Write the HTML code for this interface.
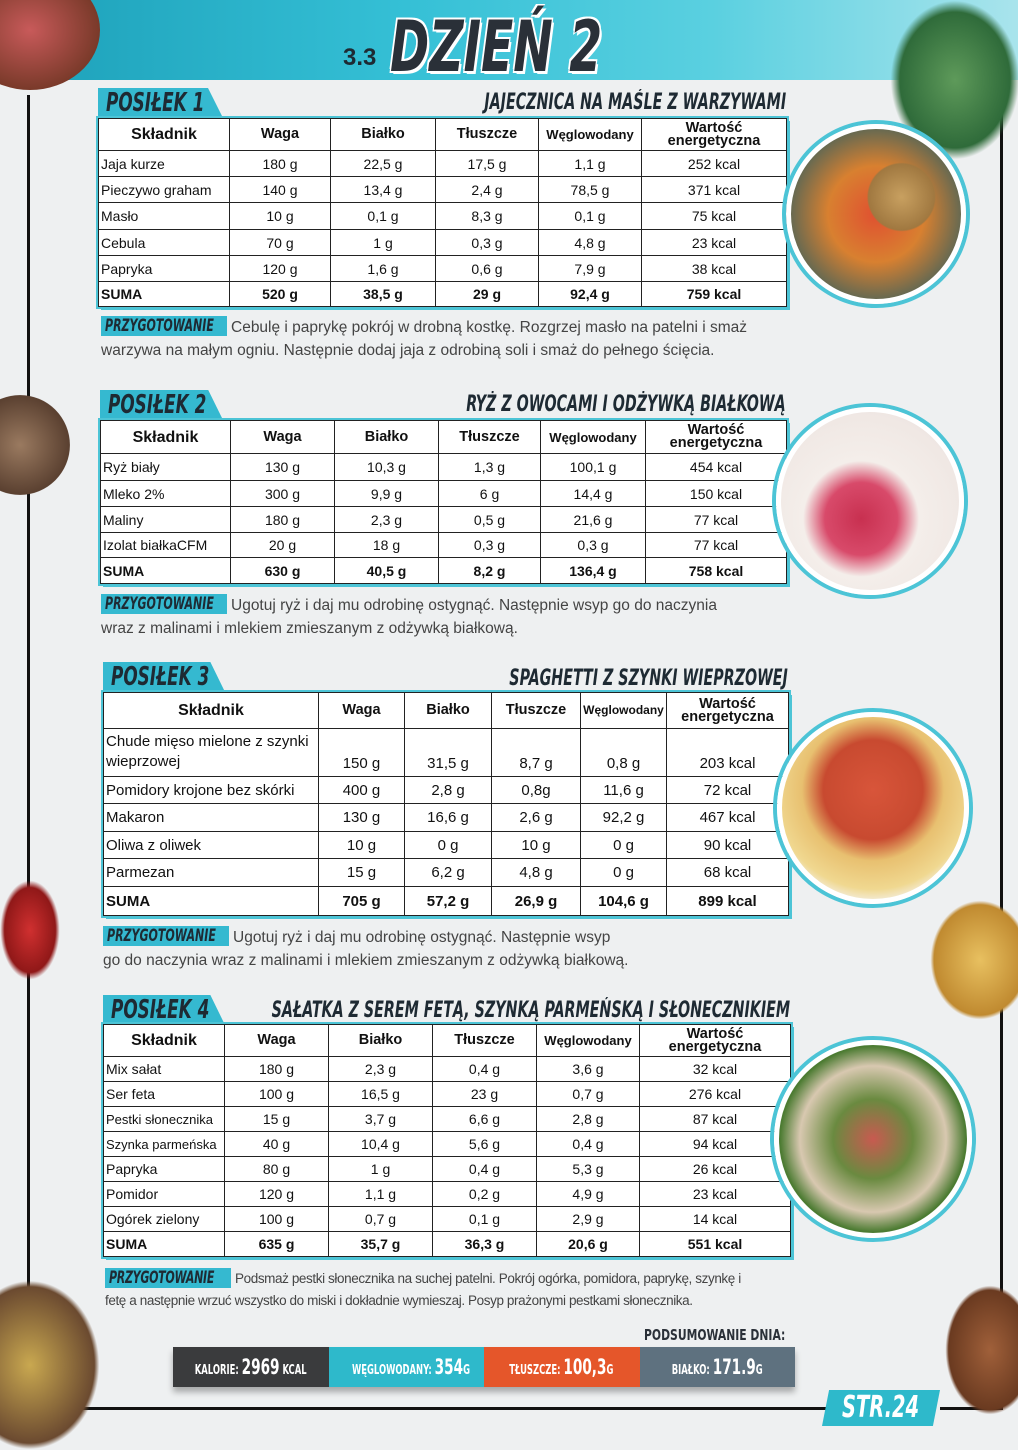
<!DOCTYPE html>
<html><head><meta charset="utf-8"><style>
*{margin:0;padding:0;box-sizing:border-box}
body{width:1018px;height:1440px;position:relative;overflow:hidden;background:#eef0f1;font-family:"Liberation Sans",sans-serif;color:#111}
.abs{position:absolute}
.top{left:0;top:0;width:1018px;height:80px;background:linear-gradient(90deg,#1c9fb8,#35c0d6 40%,#5ad0e0 70%,#a9e4ec)}
.cond{font-family:"Liberation Sans Narrow","DejaVu Sans Condensed","Liberation Sans",sans-serif;font-weight:bold;font-style:italic;white-space:nowrap}
.sx{display:inline-block;transform:scaleX(.72);transform-origin:left}
table{position:absolute;border-collapse:collapse;table-layout:fixed;background:#fff;box-shadow:3px 3px 0 #4cc4d6,0 0 0 2px #4cc4d6;font-size:14px}
td{border:1.5px solid #222;text-align:center;padding:0 2px;overflow:hidden;white-space:nowrap}
td:first-child{text-align:left}
tr.h td{font-weight:bold;font-size:14.5px;line-height:13px}
tr.h td:first-child{text-align:center;font-size:16px}
tr.s td{font-weight:bold}
.tab{height:30px;background:#35b9d0;clip-path:polygon(0 0,88% 0,100% 100%,0 100%);padding-left:8px;font-size:26px;color:#1e2a33;line-height:30px;overflow:hidden}
.title{font-size:22px;color:#1e2a33;transform:scaleX(.72);transform-origin:right}
.prep{font-size:15.5px;color:#444;line-height:23px}
.lab{display:inline-block;background:#35b9d0;color:#1e2a33;padding:0 4px;font-size:17px;line-height:20px;margin-right:4px;vertical-align:top}
.lab span{display:inline-block;transform:scaleX(.72);transform-origin:left;width:118px;overflow:visible}
.circ{border-radius:50%;border:5px solid #fff;box-shadow:0 0 0 4px #4cc4d6}
.sum div{flex:1;white-space:nowrap;overflow:hidden}
.sum span.b{font-size:21px}
</style></head><body>
<div class="abs top"></div>
<div class="abs" style="left:27px;top:95px;width:3px;height:1315px;background:#111"></div>
<div class="abs" style="left:1000px;top:80px;width:3px;height:1320px;background:#111"></div>
<div class="abs" style="left:27px;top:1407px;width:800px;height:3px;background:#111"></div>
<div class="abs" style="left:940px;top:1407px;width:63px;height:3px;background:#111"></div>
<div class="abs" style="left:-40px;top:-30px;width:140px;height:120px;border-radius:50%;background:radial-gradient(#c85a5a,#7a3a2a 70%)"></div>
<div class="abs" style="left:890px;top:0;width:130px;height:160px;border-radius:50%;background:radial-gradient(#5e9a5a,#2f6b3a 60%,transparent 70%)"></div>
<div class="abs" style="left:-30px;top:395px;width:100px;height:100px;border-radius:50%;background:radial-gradient(#9a7a60,#5a4030 70%,transparent 72%)"></div>
<div class="abs" style="left:-40px;top:1280px;width:140px;height:170px;border-radius:50%;background:radial-gradient(#c9a850,#6b4a30 65%,transparent 70%)"></div>
<div class="abs" style="left:930px;top:900px;width:100px;height:120px;border-radius:50%;background:radial-gradient(#e8c060,#c08a30 65%,transparent 70%)"></div>
<div class="abs" style="left:945px;top:1285px;width:90px;height:130px;border-radius:50%;background:radial-gradient(#a0603a,#6a3a20 65%,transparent 70%)"></div>
<div class="abs" style="left:0px;top:880px;width:60px;height:100px;border-radius:50%;background:radial-gradient(#d03030,#901818 60%,transparent 70%)"></div>

<div class="abs" style="left:343px;top:44px;font-size:24px;font-weight:bold;color:#1e2a33">3.3</div>
<div class="abs cond" style="left:390px;top:6px;font-size:70px;color:#2a3038;transform:scaleX(.75);transform-origin:left;text-shadow:3px 3px 0 #fff,-2px -2px 0 #fff,2px -2px 0 #fff,-2px 2px 0 #fff">DZIEŃ 2</div>

<!-- P1 -->
<div class="abs tab cond" style="left:98px;top:88px;width:125px"><span class="sx">POSIŁEK 1</span></div>
<div class="abs title cond" style="right:232px;top:90px">JAJECZNICA NA MAŚLE Z WARZYWAMI</div>
<table style="left:98px;top:118px;width:688px">
<colgroup><col style="width:131px"><col style="width:101px"><col style="width:105px"><col style="width:103px"><col style="width:103px"><col style="width:145px"></colgroup>
<tr class="h" style="height:32px"><td>Składnik</td><td>Waga</td><td>Białko</td><td>Tłuszcze</td><td style="font-size:13px">Węglowodany</td><td>Wartość<br>energetyczna</td></tr>
<tr style="height:26px"><td>Jaja kurze</td><td>180 g</td><td>22,5 g</td><td>17,5 g</td><td>1,1 g</td><td>252 kcal</td></tr>
<tr style="height:26px"><td>Pieczywo graham</td><td>140 g</td><td>13,4 g</td><td>2,4 g</td><td>78,5 g</td><td>371 kcal</td></tr>
<tr style="height:27px"><td>Masło</td><td>10 g</td><td>0,1 g</td><td>8,3 g</td><td>0,1 g</td><td>75 kcal</td></tr>
<tr style="height:26px"><td>Cebula</td><td>70 g</td><td>1 g</td><td>0,3 g</td><td>4,8 g</td><td>23 kcal</td></tr>
<tr style="height:26px"><td>Papryka</td><td>120 g</td><td>1,6 g</td><td>0,6 g</td><td>7,9 g</td><td>38 kcal</td></tr>
<tr class="s" style="height:25px"><td>SUMA</td><td>520 g</td><td>38,5 g</td><td>29 g</td><td>92,4 g</td><td>759 kcal</td></tr>
</table>
<div class="abs circ" style="left:786px;top:124px;width:180px;height:180px;background:radial-gradient(circle at 65% 40%,#c8a060 0,#a07840 22%,transparent 23%),radial-gradient(#e05030,#d88030 40%,#6a6a50 70%,#444 90%)"></div>
<div class="abs prep" style="left:101px;top:316px;width:680px"><span class="lab cond"><span>PRZYGOTOWANIE</span></span>Cebulę i paprykę pokrój w drobną kostkę. Rozgrzej masło na patelni i smaż<br>warzywa na małym ogniu. Następnie dodaj jaja z odrobiną soli i smaż do pełnego ścięcia.</div>

<!-- P2 -->
<div class="abs tab cond" style="left:100px;top:390px;width:123px"><span class="sx">POSIŁEK 2</span></div>
<div class="abs title cond" style="right:232px;top:392px">RYŻ Z OWOCAMI I ODŻYWKĄ BIAŁKOWĄ</div>
<table style="left:100px;top:420px;width:686px">
<colgroup><col style="width:130px"><col style="width:104px"><col style="width:104px"><col style="width:102px"><col style="width:105px"><col style="width:141px"></colgroup>
<tr class="h" style="height:33px"><td>Składnik</td><td>Waga</td><td>Białko</td><td>Tłuszcze</td><td style="font-size:13px">Węglowodany</td><td>Wartość<br>energetyczna</td></tr>
<tr style="height:27px"><td>Ryż biały</td><td>130 g</td><td>10,3 g</td><td>1,3 g</td><td>100,1 g</td><td>454 kcal</td></tr>
<tr style="height:26px"><td>Mleko 2%</td><td>300 g</td><td>9,9 g</td><td>6 g</td><td>14,4 g</td><td>150 kcal</td></tr>
<tr style="height:26px"><td>Maliny</td><td>180 g</td><td>2,3 g</td><td>0,5 g</td><td>21,6 g</td><td>77 kcal</td></tr>
<tr style="height:25px"><td>Izolat białkaCFM</td><td>20 g</td><td>18 g</td><td>0,3 g</td><td>0,3 g</td><td>77 kcal</td></tr>
<tr class="s" style="height:26px"><td>SUMA</td><td>630 g</td><td>40,5 g</td><td>8,2 g</td><td>136,4 g</td><td>758 kcal</td></tr>
</table>
<div class="abs circ" style="left:776px;top:407px;width:188px;height:188px;background:radial-gradient(circle at 45% 60%,#c83050 0,#d84a6a 25%,#f4eeea 40%,#f0e8e4 70%,#e8dede)"></div>
<div class="abs prep" style="left:101px;top:594px;width:680px"><span class="lab cond"><span>PRZYGOTOWANIE</span></span>Ugotuj ryż i daj mu odrobinę ostygnąć. Następnie wsyp go do naczynia<br>wraz z malinami i mlekiem zmieszanym z odżywką białkową.</div>

<!-- P3 -->
<div class="abs tab cond" style="left:103px;top:662px;width:122px"><span class="sx">POSIŁEK 3</span></div>
<div class="abs title cond" style="right:230px;top:666px">SPAGHETTI Z SZYNKI WIEPRZOWEJ</div>
<table style="left:103px;top:692px;width:685px;font-size:15px">
<colgroup><col style="width:215px"><col style="width:86px"><col style="width:87px"><col style="width:89px"><col style="width:86px"><col style="width:122px"></colgroup>
<tr class="h" style="height:36px"><td>Składnik</td><td>Waga</td><td>Białko</td><td>Tłuszcze</td><td style="font-size:12px">Węglowodany</td><td>Wartość<br>energetyczna</td></tr>
<tr style="height:48px"><td style="white-space:normal;line-height:20px;vertical-align:top;padding-top:3px">Chude mięso mielone z szynki wieprzowej</td><td style="vertical-align:bottom;padding-bottom:4px">150 g</td><td style="vertical-align:bottom;padding-bottom:4px">31,5 g</td><td style="vertical-align:bottom;padding-bottom:4px">8,7 g</td><td style="vertical-align:bottom;padding-bottom:4px">0,8 g</td><td style="vertical-align:bottom;padding-bottom:4px">203 kcal</td></tr>
<tr style="height:27px"><td>Pomidory krojone bez skórki</td><td>400 g</td><td>2,8 g</td><td>0,8g</td><td>11,6 g</td><td>72 kcal</td></tr>
<tr style="height:28px"><td>Makaron</td><td>130 g</td><td>16,6 g</td><td>2,6 g</td><td>92,2 g</td><td>467 kcal</td></tr>
<tr style="height:27px"><td>Oliwa z oliwek</td><td>10 g</td><td>0 g</td><td>10 g</td><td>0 g</td><td>90 kcal</td></tr>
<tr style="height:28px"><td>Parmezan</td><td>15 g</td><td>6,2 g</td><td>4,8 g</td><td>0 g</td><td>68 kcal</td></tr>
<tr class="s" style="height:29px"><td>SUMA</td><td>705 g</td><td>57,2 g</td><td>26,9 g</td><td>104,6 g</td><td>899 kcal</td></tr>
</table>
<div class="abs circ" style="left:777px;top:712px;width:192px;height:192px;background:radial-gradient(circle at 50% 40%,#d8553a 0,#c84a30 35%,#e8c070 50%,#f0d890 70%,#f4f0e8 80%)"></div>
<div class="abs prep" style="left:103px;top:926px;width:680px"><span class="lab cond"><span>PRZYGOTOWANIE</span></span>Ugotuj ryż i daj mu odrobinę ostygnąć. Następnie wsyp<br>go do naczynia wraz z malinami i mlekiem zmieszanym z odżywką białkową.</div>

<!-- P4 -->
<div class="abs tab cond" style="left:103px;top:995px;width:122px"><span class="sx">POSIŁEK 4</span></div>
<div class="abs title cond" style="right:228px;top:998px">SAŁATKA Z SEREM FETĄ, SZYNKĄ PARMEŃSKĄ I SŁONECZNIKIEM</div>
<table style="left:103px;top:1024px;width:687px">
<colgroup><col style="width:121px"><col style="width:104px"><col style="width:104px"><col style="width:104px"><col style="width:103px"><col style="width:151px"></colgroup>
<tr class="h" style="height:32px"><td>Składnik</td><td>Waga</td><td>Białko</td><td>Tłuszcze</td><td style="font-size:13px">Węglowodany</td><td>Wartość<br>energetyczna</td></tr>
<tr style="height:25px"><td>Mix sałat</td><td>180 g</td><td>2,3 g</td><td>0,4 g</td><td>3,6 g</td><td>32 kcal</td></tr>
<tr style="height:25px"><td>Ser feta</td><td>100 g</td><td>16,5 g</td><td>23 g</td><td>0,7 g</td><td>276 kcal</td></tr>
<tr style="height:25px"><td style="font-size:13px">Pestki słonecznika</td><td>15 g</td><td>3,7 g</td><td>6,6 g</td><td>2,8 g</td><td>87 kcal</td></tr>
<tr style="height:25px"><td style="font-size:13px">Szynka parmeńska</td><td>40 g</td><td>10,4 g</td><td>5,6 g</td><td>0,4 g</td><td>94 kcal</td></tr>
<tr style="height:25px"><td>Papryka</td><td>80 g</td><td>1 g</td><td>0,4 g</td><td>5,3 g</td><td>26 kcal</td></tr>
<tr style="height:25px"><td>Pomidor</td><td>120 g</td><td>1,1 g</td><td>0,2 g</td><td>4,9 g</td><td>23 kcal</td></tr>
<tr style="height:25px"><td>Ogórek zielony</td><td>100 g</td><td>0,7 g</td><td>0,1 g</td><td>2,9 g</td><td>14 kcal</td></tr>
<tr class="s" style="height:25px"><td>SUMA</td><td>635 g</td><td>35,7 g</td><td>36,3 g</td><td>20,6 g</td><td>551 kcal</td></tr>
</table>
<div class="abs circ" style="left:774px;top:1040px;width:198px;height:198px;background:radial-gradient(circle at 50% 50%,#c85a50 0,#6a8a40 30%,#d8c8b0 55%,#4a7a30 70%,#f4f0e8 85%)"></div>
<div class="abs prep" style="left:105px;top:1268px;width:700px;font-size:13.5px;line-height:22px;letter-spacing:-0.4px;white-space:nowrap"><span class="lab cond"><span>PRZYGOTOWANIE</span></span>Podsmaż pestki słonecznika na suchej patelni. Pokrój ogórka, pomidora, paprykę, szynkę i<br>fetę a następnie wrzuć wszystko do miski i dokładnie wymieszaj. Posyp prażonymi pestkami słonecznika.</div>

<!-- summary -->
<div class="abs cond" style="left:644px;top:1326px;font-size:15px;font-style:normal;color:#2a3038;transform:scaleX(.8);transform-origin:left">PODSUMOWANIE DNIA:</div>
<div class="abs cond sum" style="left:173px;top:1347px;width:622px;height:40px;display:flex;font-style:normal;color:#fff;box-shadow:0 5px 6px rgba(0,0,0,.3);line-height:40px;text-align:center;font-size:13px">
<div style="background:#3a3b3d"><span class="sx" style="transform-origin:center">KALORIE: <span class="b">2969</span> KCAL</span></div>
<div style="background:#2eb9cb"><span class="sx" style="transform-origin:center">WĘGLOWODANY: <span class="b">354</span>G</span></div>
<div style="background:#e5562a"><span class="sx" style="transform-origin:center">TŁUSZCZE: <span class="b">100,3</span>G</span></div>
<div style="background:#5e717f"><span class="sx" style="transform-origin:center">BIAŁKO: <span class="b">171.9</span>G</span></div>
</div>
<div class="abs cond" style="left:822px;top:1390px;width:118px;height:36px;background:#2eb9cb;clip-path:polygon(6% 0,100% 0,94% 100%,0 100%);color:#fff;font-size:30px;line-height:36px;text-align:center"><span class="sx" style="transform-origin:center">STR.24</span></div>
</body></html>
